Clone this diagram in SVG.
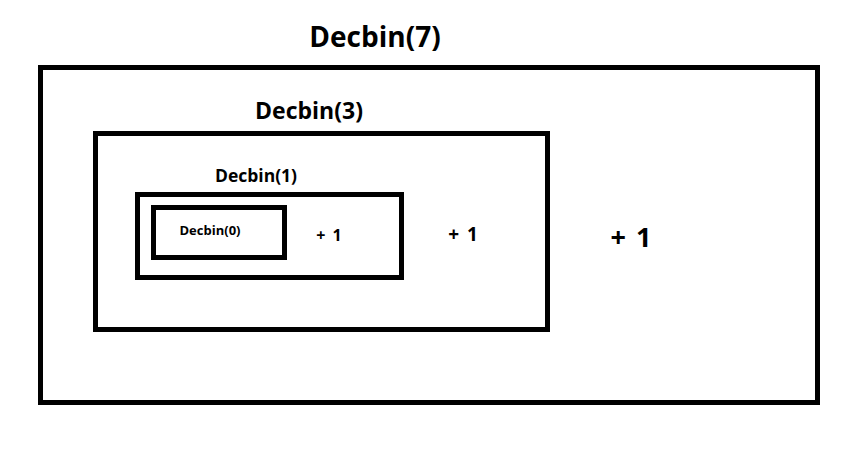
<svg xmlns="http://www.w3.org/2000/svg" width="847" height="449" viewBox="0 0 847 449">
<style>
rect.box{fill:none;stroke:#000;stroke-width:5}
text{font-family:"Open Sans","Noto Sans","DejaVu Sans",sans-serif;font-weight:bold;fill:#000;text-anchor:middle}
text.plus{word-spacing:3px}
</style>
<rect width="847" height="449" fill="#fff"/>
<g id="decbin7">
<rect class="box" x="40.5" y="67.5" width="777" height="335"/>
<text x="375" y="47" font-size="28">Decbin(7)</text>
<text class="plus" x="631" y="247" font-size="27">+ 1</text>
</g>
<g id="decbin3">
<rect class="box" x="95.5" y="133.5" width="452" height="196"/>
<text x="309" y="119" font-size="23">Decbin(3)</text>
<text class="plus" x="463" y="241" font-size="19">+ 1</text>
</g>
<g id="decbin1">
<rect class="box" x="137.5" y="194.5" width="264" height="83"/>
<text x="256" y="182" font-size="17.5">Decbin(1)</text>
<text class="plus" x="329" y="241" font-size="16">+ 1</text>
</g>
<g id="decbin0">
<rect class="box" x="153.5" y="207.5" width="131" height="50"/>
<text x="210" y="235" font-size="13">Decbin(0)</text>
</g>
<g id="connectors"></g>
</svg>
